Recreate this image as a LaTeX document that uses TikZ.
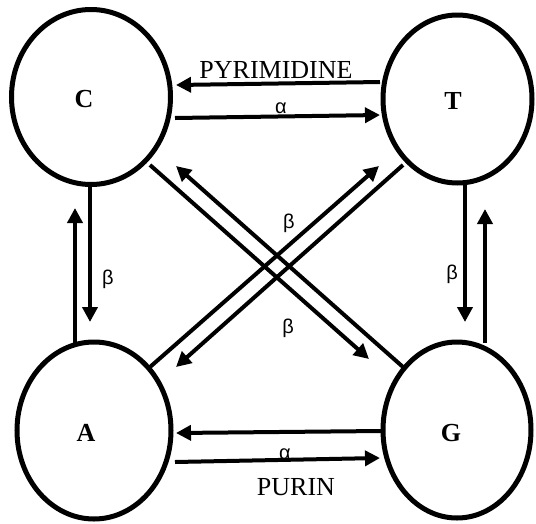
\documentclass[tikz,border=0pt]{standalone}
\usepackage{fontspec}
\setmainfont{Liberation Serif}
\newfontfamily\greekfont{Liberation Sans}
\usetikzlibrary{arrows.meta,shapes.geometric}
\begin{document}
\begin{tikzpicture}[x=1pt,y=-1pt,
  nuc/.style={draw,ellipse,line width=5pt,inner sep=0pt},
  base/.style={font=\fontsize{26}{26}\selectfont\bfseries,inner sep=0pt},
  lab/.style={font=\fontsize{26}{26}\selectfont,inner sep=0pt},
  gk/.style={font=\greekfont\fontsize{20}{20}\selectfont,inner sep=0pt},
  arr/.style={line width=4pt,-{Triangle[length=15pt,width=15pt]}},
  ln/.style={line width=4pt}]
\useasboundingbox (0,0) rectangle (536,523);
% nucleotides
\node[nuc,minimum width=159pt,minimum height=175pt] (C) at (91,97) {};
\node[nuc,minimum width=149pt,minimum height=168pt] (T) at (457.5,99) {};
\node[nuc,minimum width=154pt,minimum height=177pt] (A) at (94,430.5) {};
\node[nuc,minimum width=148pt,minimum height=176pt] (G) at (457,430) {};
\node[base] (Cl) at (84,99) {C};
\node[base] (Tl) at (453,101) {T};
\node[base] (Al) at (86,433) {A};
\node[base] (Gl) at (451,433) {G};
% labels
\node[lab] (pyr) at (276,70.5) {PYRIMIDINE};
\node[lab] (pur) at (296,487) {PURIN};
\node[gk] (a1) at (281,108) {α};
\node[gk] (a2) at (285,454) {α};
\node[gk] (b1) at (108,279) {β};
\node[gk] (b2) at (452,274) {β};
\node[gk] (b3) at (289,223) {β};
\node[gk] (b4) at (288,328) {β};
% connector end points
\coordinate (TCs) at (380,82);  \coordinate (TCe) at (176,85);
\coordinate (CTs) at (175,118); \coordinate (CTe) at (380,115);
\coordinate (GAs) at (381,431); \coordinate (GAe) at (176,433);
\coordinate (AGs) at (175,462); \coordinate (AGe) at (380,458);
\coordinate (CAs) at (90,185);  \coordinate (CAe) at (90,322);
\coordinate (ACs) at (75,345);  \coordinate (ACe) at (75,208);
\coordinate (TGs) at (465,183); \coordinate (TGe) at (465,322);
\coordinate (GTs) at (485,343); \coordinate (GTe) at (485,209);
\coordinate (CGs) at (150,165); \coordinate (CGe) at (369,359);
\coordinate (GCs) at (403,367); \coordinate (GCe) at (176,166);
\coordinate (ATs) at (150,367); \coordinate (ATe) at (379,166);
\coordinate (TAs) at (403,165); \coordinate (TAe) at (176,367);
% connectors
\draw[arr] (TCs) -- (TCe);
\draw[arr] (CTs) -- (CTe);
\draw[arr] (GAs) -- (GAe);
\draw[arr] (AGs) -- (AGe);
\draw[arr] (CAs) -- (CAe);
\draw[arr] (ACs) -- (ACe);
\draw[arr] (TGs) -- (TGe);
\draw[arr] (GTs) -- (GTe);
\draw[arr] (CGs) -- (CGe);
\draw[arr] (GCs) -- (GCe);
\draw[arr] (ATs) -- (ATe);
\draw[arr] (TAs) -- (TAe);
\end{tikzpicture}
\end{document}
